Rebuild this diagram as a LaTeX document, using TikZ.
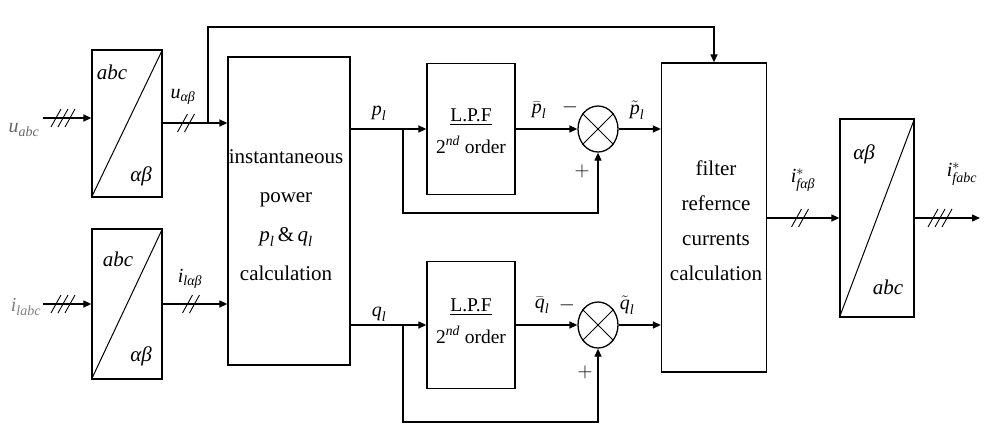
\documentclass[tikz,border=0pt]{standalone}
\usepackage{amsmath}
\usepackage{fontspec}
\setmainfont{Liberation Serif}
\usetikzlibrary{arrows.meta,shapes.geometric}
\newcommand\vi[1]{\text{\itshape #1}}
\tikzset{
  blk/.style={draw,line width=1.3pt,inner sep=0pt},
  arr/.style={line width=1.3pt,-{Triangle[length=8pt,width=7pt]}},
  sumj/.style={draw,ellipse,line width=1.3pt,minimum width=40pt,minimum height=46pt,inner sep=0pt},
  lbl/.style={font=\fontsize{20}{22}\selectfont,inner sep=0pt},
  boxtxt/.style={font=\fontsize{21}{23}\selectfont\itshape,inner sep=0pt},
  hashl/.style={line width=0.9pt}
}
\newcommand\tickmarks[3]{%
  \foreach \k in {1,...,#3}{%
    \draw[hashl] ({#1+(\k-(#3+1)/2)*7-5},{#2+9}) -- ++(10,-18);}}
\begin{document}
\begin{tikzpicture}[x=1pt,y=-1pt]
\useasboundingbox (0,0) rectangle (997,434);
% blocks
\node[blk,minimum width=70pt,minimum height=147pt] (T1) at (127,123.5) {};
\node[blk,minimum width=70pt,minimum height=150pt] (T2) at (127,304) {};
\node[blk,minimum width=122pt,minimum height=308pt] (IP) at (289,211) {};
\node[blk,minimum width=88pt,minimum height=131pt] (L1) at (471,129) {};
\node[blk,minimum width=88pt,minimum height=127pt] (L2) at (471,325) {};
\node[sumj] (S1) at (598,129) {};
\node[sumj] (S2) at (598,325) {};
\node[blk,minimum width=105pt,minimum height=309pt] (F) at (714,217.5) {};
\node[blk,minimum width=74pt,minimum height=198pt] (T3) at (877,218) {};
% diagonals
\draw[line width=1pt] (T1.south west) -- (T1.north east);
\draw[line width=1pt] (T2.south west) -- (T2.north east);
\draw[line width=1pt] (T3.south west) -- (T3.north east);
% crosses
\draw[line width=1pt] (S1.45) -- (S1.225) (S1.135) -- (S1.315);
\draw[line width=1pt] (S2.45) -- (S2.225) (S2.135) -- (S2.315);
% box texts
\node[boxtxt] (t1a) at (112,72) {abc};
\node[boxtxt] (t1b) at (141,176) {αβ};
\node[boxtxt] (t2a) at (118,259) {abc};
\node[boxtxt] (t2b) at (141,356) {αβ};
\node[boxtxt] (t3a) at (864,154) {αβ};
\node[boxtxt] (t3b) at (888,287) {abc};
\node[font=\fontsize{21}{39}\selectfont,align=center,inner sep=0pt] (iptxt) at (286,215)
  {instantaneous\\power\\$\vi{p}_{\vi{l}}\,\&\,\vi{q}_{\vi{l}}$\\calculation};
\node[font=\fontsize{21}{35}\selectfont,align=center,inner sep=0pt] (ftxt) at (716,221)
  {filter\\refernce\\currents\\calculation};
\node[font=\fontsize{19.5}{32}\selectfont,align=center,inner sep=0pt] (l1txt) at (471,131)
  {\underline{L.P.F}\\2\textsuperscript{\textit{nd}} order};
\node[font=\fontsize{19.5}{32}\selectfont,align=center,inner sep=0pt] (l2txt) at (471,321)
  {\underline{L.P.F}\\2\textsuperscript{\textit{nd}} order};
% coordinates
\coordinate (uin) at (43,118);
\coordinate (iin) at (43,304);
\coordinate (br) at (208,123);
\coordinate (b1) at (403,129);
\coordinate (b2) at (403,325);
\coordinate (out) at (980,218);
% connectors
\draw[arr] (uin) -- (uin -| T1.west);
\draw[arr] (T1.east |- br) -- (br -| IP.west);
\draw[arr] (br) -- (208,27) -| (F.north);
\draw[arr] (iin) -- (T2.west);
\draw[arr] (T2.east) -- (T2.east -| IP.west);
\draw[arr] (IP.east |- L1.west) -- (L1.west);
\draw[arr] (IP.east |- L2.west) -- (L2.west);
\draw[arr] (b1) -- ++(0,84) -| (S1.south);
\draw[arr] (b2) -- ++(0,97) -| (S2.south);
\draw[arr] (L1.east) -- (S1.west);
\draw[arr] (L2.east) -- (S2.west);
\draw[arr] (S1.east) -- (S1.east -| F.west);
\draw[arr] (S2.east) -- (S2.east -| F.west);
\draw[arr] (F.east |- T3.west) -- (T3.west);
\draw[arr] (T3.east) -- (out);
% hash marks
\tickmarks{63}{118}{3}
\tickmarks{63}{304}{3}
\tickmarks{186}{123}{2}
\tickmarks{191}{304}{2}
\tickmarks{800}{218}{2}
\tickmarks{940}{218}{3}
% labels
\node[lbl,text=black!60] (lu) at (24,130) {$\vi{u}_{\vi{abc}}$};
\node[lbl,text=black!50] (li) at (26,307) {$\vi{i}_{\vi{labc}}$};
\node[lbl] (luab) at (183,97) {$\vi{u}_{\vi{αβ}}$};
\node[lbl] (liab) at (190,279) {$\vi{i}_{\vi{lαβ}}$};
\node[lbl] (lp) at (379,113) {$\vi{p}_{\vi{l}}$};
\node[lbl] (lq) at (379,314) {$\vi{q}_{\vi{l}}$};
\node[lbl] (lpb) at (539,110) {$\bar{\vi{p}}_{\vi{l}}$};
\node[lbl] (lqb) at (542,305) {$\bar{\vi{q}}_{\vi{l}}$};
\node[lbl] (lpt) at (637,110) {$\tilde{\vi{p}}_{\vi{l}}$};
\node[lbl] (lqt) at (627,305) {$\tilde{\vi{q}}_{\vi{l}}$};
\node[lbl] (m1) at (570,107) {$-$};
\node[lbl] (m2) at (567,305) {$-$};
\node[lbl] (p1) at (582,171) {$+$};
\node[lbl] (p2) at (585,372) {$+$};
\node[lbl] (lif) at (803,180) {$\vi{i}^{*}_{\vi{fαβ}}$};
\node[lbl] (lifo) at (962,174) {$\vi{i}^{*}_{\vi{fabc}}$};
\end{tikzpicture}
\end{document}
